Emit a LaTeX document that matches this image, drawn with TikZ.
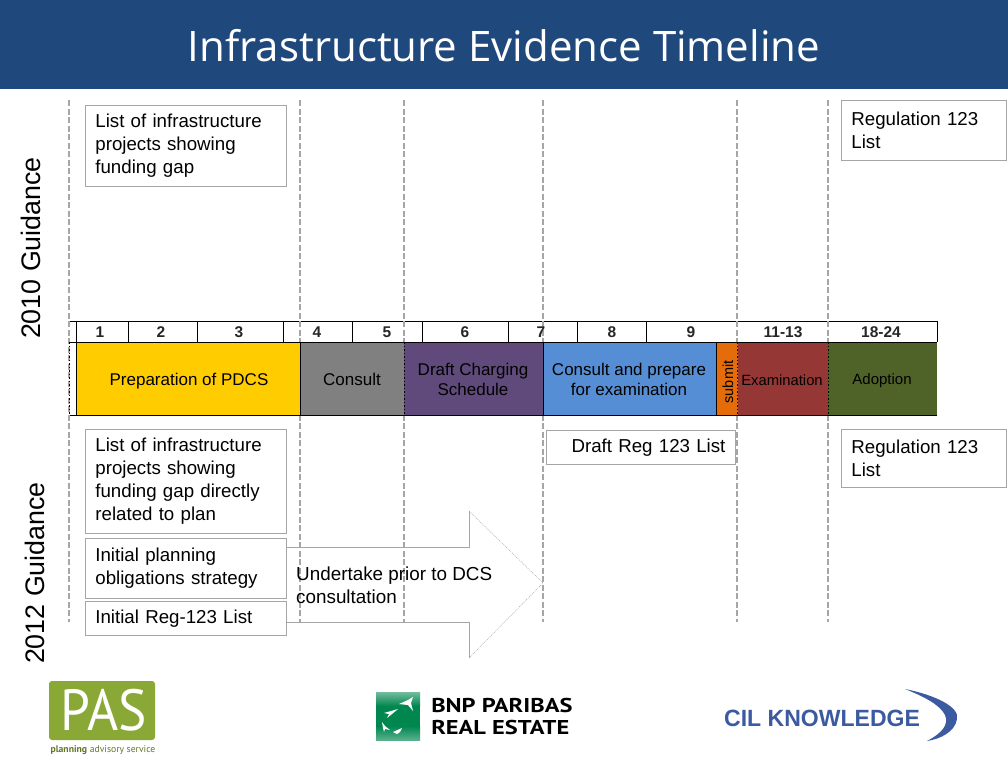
\documentclass[tikz,border=0pt]{standalone}
\usepackage{fontspec}
\setmainfont{Liberation Sans}
\newfontfamily\titlefont{Open Sans}
\newfontfamily\logofont{PT Sans}
\definecolor{headerblue}{HTML}{1F497D}
\definecolor{guidegray}{HTML}{A6A6A6}
\definecolor{pdcsyellow}{HTML}{FFCC00}
\definecolor{consultgray}{HTML}{808080}
\definecolor{draftpurple}{HTML}{604A7B}
\definecolor{prepareblue}{HTML}{558ED5}
\definecolor{submitorange}{HTML}{E46C0A}
\definecolor{examred}{HTML}{953735}
\definecolor{adoptgreen}{HTML}{4F6228}
\definecolor{pasgreen}{HTML}{8AA835}
\definecolor{bnpgreen}{HTML}{00864F}
\definecolor{cilblue}{HTML}{3B5AA0}
\tikzset{
	guide/.style = {guidegray, line width = 2pt, dash pattern = on 6pt off 2.5pt},
	guidein/.style = {black, line width = 0.4pt, dash pattern = on 1.5pt off 2pt},
	infobox/.style = {draw = guidegray, fill = white, line width = 0.8pt, anchor = north west, inner sep = 0pt, align = left, font = \fontsize{18.7}{23}\selectfont},
	monthcell/.style = {font = \bfseries\fontsize{15.5}{18}\selectfont, text = black!85},
	stagebar/.style = {font = \fontsize{17}{20}\selectfont, align = center, text = black},
	bnptext/.style = {font = \logofont\bfseries\fontsize{20}{22}\selectfont, anchor = west, inner sep = 0pt, xscale = 1.22}
}
\begin{document}
\begin{tikzpicture}[x = 1pt, y = -1pt]
	\useasboundingbox (0, 0) rectangle (1008, 756);
	\fill[headerblue] (0, 0) rectangle (1008, 89);
	\node[white] (title) at (504, 46) {\titlefont\fontsize{42}{50}\selectfont Infrastructure Evidence Timeline};
	% guides
	\draw[guide] (69, 100) -- (69, 622);
	\draw[guide] (300, 100) -- (300, 622);
	\draw[guide] (404, 100) -- (404, 622);
	\draw[guide] (543, 100) -- (543, 622);
	\draw[guide] (737, 100) -- (737, 622);
	\draw[guide] (828, 100) -- (828, 622);
	% stages
	\fill[pdcsyellow] (76, 342) rectangle (300, 415);
	\fill[consultgray] (300, 342) rectangle (404, 415);
	\fill[draftpurple] (404, 342) rectangle (543, 415);
	\fill[prepareblue] (543, 342) rectangle (716, 415);
	\fill[submitorange] (716, 342) rectangle (738, 415);
	\fill[examred] (738, 342) rectangle (828, 415);
	\fill[adoptgreen] (828, 342) rectangle (937, 415);
	\fill[white] (70, 321) rectangle (937, 342);
	\draw[black, line width = 0.7pt] (70, 321) -- (937, 321) -- (937, 342);
	\draw[black, line width = 0.7pt] (70, 342) -- (937, 342);
	\draw[black, line width = 0.7pt] (70, 415) -- (937, 415);
	\draw[black, line width = 0.7pt] (76, 321) -- (76, 415);
	\draw[black, line width = 0.7pt] (128, 321) -- (128, 342);
	\draw[black, line width = 0.7pt] (197, 321) -- (197, 342);
	\draw[black, line width = 0.7pt] (283, 321) -- (283, 342);
	\draw[black, line width = 0.7pt] (352, 321) -- (352, 342);
	\draw[black, line width = 0.7pt] (422, 321) -- (422, 342);
	\draw[black, line width = 0.7pt] (508, 321) -- (508, 342);
	\draw[black, line width = 0.7pt] (577, 321) -- (577, 342);
	\draw[black, line width = 0.7pt] (646, 321) -- (646, 342);
	\draw[black, line width = 0.7pt] (300, 342) -- (300, 415);
	\draw[black, line width = 0.7pt] (543, 342) -- (543, 415);
	\draw[black, line width = 0.7pt] (716, 342) -- (716, 415);
	\draw[guidein] (69, 342) -- (69, 415);
	\draw[guidein] (404, 342) -- (404, 415);
	\draw[guidein] (737, 342) -- (737, 415);
	\draw[guidein] (828, 342) -- (828, 415);
	\draw[guide] (300, 321) -- (300, 342);
	\draw[guide] (404, 321) -- (404, 342);
	\draw[guide] (543, 321) -- (543, 342);
	\draw[guide] (737, 321) -- (737, 342);
	\draw[guide] (828, 321) -- (828, 342);
	% months
	\node[monthcell] (m1) at (100, 332) {1};
	\node[monthcell] (m2) at (161, 332) {2};
	\node[monthcell] (m3) at (239, 332) {3};
	\node[monthcell] (m4) at (317, 332) {4};
	\node[monthcell] (m5) at (387, 332) {5};
	\node[monthcell] (m6) at (465, 332) {6};
	\node[monthcell] (m7) at (541, 332) {7};
	\node[monthcell] (m8) at (612, 332) {8};
	\node[monthcell] (m9) at (691, 332) {9};
	\node[monthcell] (m11) at (783, 332) {11-13};
	\node[monthcell] (m18) at (881, 332) {18-24};
	\node[stagebar] (pdcs) at (189, 381) {Preparation of PDCS};
	\node[stagebar] (consult) at (352, 379) {Consult};
	\node[stagebar] (draft) at (473, 379) {Draft Charging\\Schedule};
	\node[stagebar] (prepare) at (629, 379) {Consult and prepare\\for examination};
	\node[stagebar, font = \fontsize{14.5}{16}\selectfont, rotate = 90] (submit) at (728, 382) {submit};
	\node[stagebar, font = \fontsize{14.8}{17}\selectfont] (exam) at (782, 380) {Examination};
	\node[stagebar, font = \fontsize{15}{17}\selectfont] (adopt) at (882, 381) {Adoption};
	% side labels
	\node[rotate = 90, font = \fontsize{26.8}{30}\selectfont] (g2010) at (31, 248) {2010 Guidance};
	\node[rotate = 90, font = \fontsize{26.8}{30}\selectfont] (g2012) at (35, 573) {2012 Guidance};
	% arrow
	\draw[guidegray, line width = 0.8pt] (287, 547) -- (469, 547) -- (469, 511);
	\draw[guidegray, line width = 0.5pt, dash pattern = on 1pt off 1pt] (469, 511) -- (543, 583) -- (469, 658);
	\draw[guidegray, line width = 0.8pt] (469, 658) -- (469, 622) -- (287, 622);
	\node[anchor = north west, inner sep = 0pt, align = left, font = \fontsize{18.85}{23}\selectfont] (undertake) at (296, 567) {Undertake prior to DCS\\consultation};
	% text boxes
	\node[infobox, minimum width = 201pt, minimum height = 81pt, text width = 181pt] (list2010) at (85, 105) {List of infrastructure\\projects showing\\funding gap};
	\node[infobox, minimum width = 165pt, minimum height = 60pt, text width = 145pt] (reg2010) at (841, 100) {Regulation 123\\List};
	\node[infobox, minimum width = 201pt, minimum height = 104pt, text width = 181pt] (list2012) at (85, 429) {List of infrastructure\\projects showing\\funding gap directly\\related to plan};
	\node[infobox, minimum width = 201pt, minimum height = 60pt, text width = 181pt] (oblig) at (85, 538) {Initial planning\\obligations strategy};
	\node[infobox, minimum width = 201pt, minimum height = 34pt, text width = 181pt] (initreg) at (85, 601) {Initial Reg-123 List};
	\node[infobox, minimum width = 189pt, minimum height = 34pt, text width = 169pt, align = right] (draftreg) at (546, 430) {Draft Reg 123 List};
	\node[infobox, minimum width = 165pt, minimum height = 58pt, text width = 145pt] (reg2012) at (841, 428.5) {Regulation 123\\List};
	% logos
	\fill[pasgreen, rounded corners = 3pt] (49, 681) rectangle (155, 740);
	\node[white, font = \logofont\fontsize{58}{58}\selectfont, inner sep = 0pt, xscale = 0.92] (pas) at (103.5, 710.5) {PAS};
	\node[pasgreen!70!black, font = \logofont\fontsize{9.7}{12}\selectfont, inner sep = 0pt] (pasname) at (103, 750) {\textbf{planning} advisory service};
	\fill[bnpgreen] (376, 692) rectangle (420, 740);
	\shade[top color = bnpgreen!55!white, bottom color = bnpgreen] (376, 692) rectangle (420, 706);
	\shade[top color = bnpgreen, bottom color = bnpgreen!65!white] (376, 726) rectangle (420, 740);
	\fill[white] (399, 704) -- (408, 700) -- (413, 697) -- (411, 703) -- (413, 711) -- (408, 705) -- cycle;
	\fill[white] (384, 713) -- (391, 711) -- (398, 709) -- (392, 714) -- (387, 718) -- (389, 714) -- cycle;
	\fill[white] (382, 722) -- (385, 726) -- (390, 730) -- (385, 729) -- (384, 732) -- (383, 728) -- cycle;
	\fill[white] (393, 732) -- (402, 728) -- (400, 732) -- (397, 734) -- cycle;
	\node[bnptext] (bnp) at (431, 705) {BNP PARIBAS};
	\node[bnptext] (real) at (431, 727) {REAL ESTATE};
	\node[cilblue, font = \bfseries\fontsize{23.5}{26}\selectfont, anchor = west, inner sep = 0pt, xscale = 0.98] (cil) at (724, 718.5) {CIL KNOWLEDGE};
	\fill[cilblue] (905, 689) .. controls (935, 695) and (960, 707) .. (957, 719) .. controls (955, 732) and (940, 739) .. (927, 741) .. controls (942, 733) and (949, 725) .. (945, 715) .. controls (940, 705) and (925, 697) .. (905, 689);
\end{tikzpicture}
\end{document}
